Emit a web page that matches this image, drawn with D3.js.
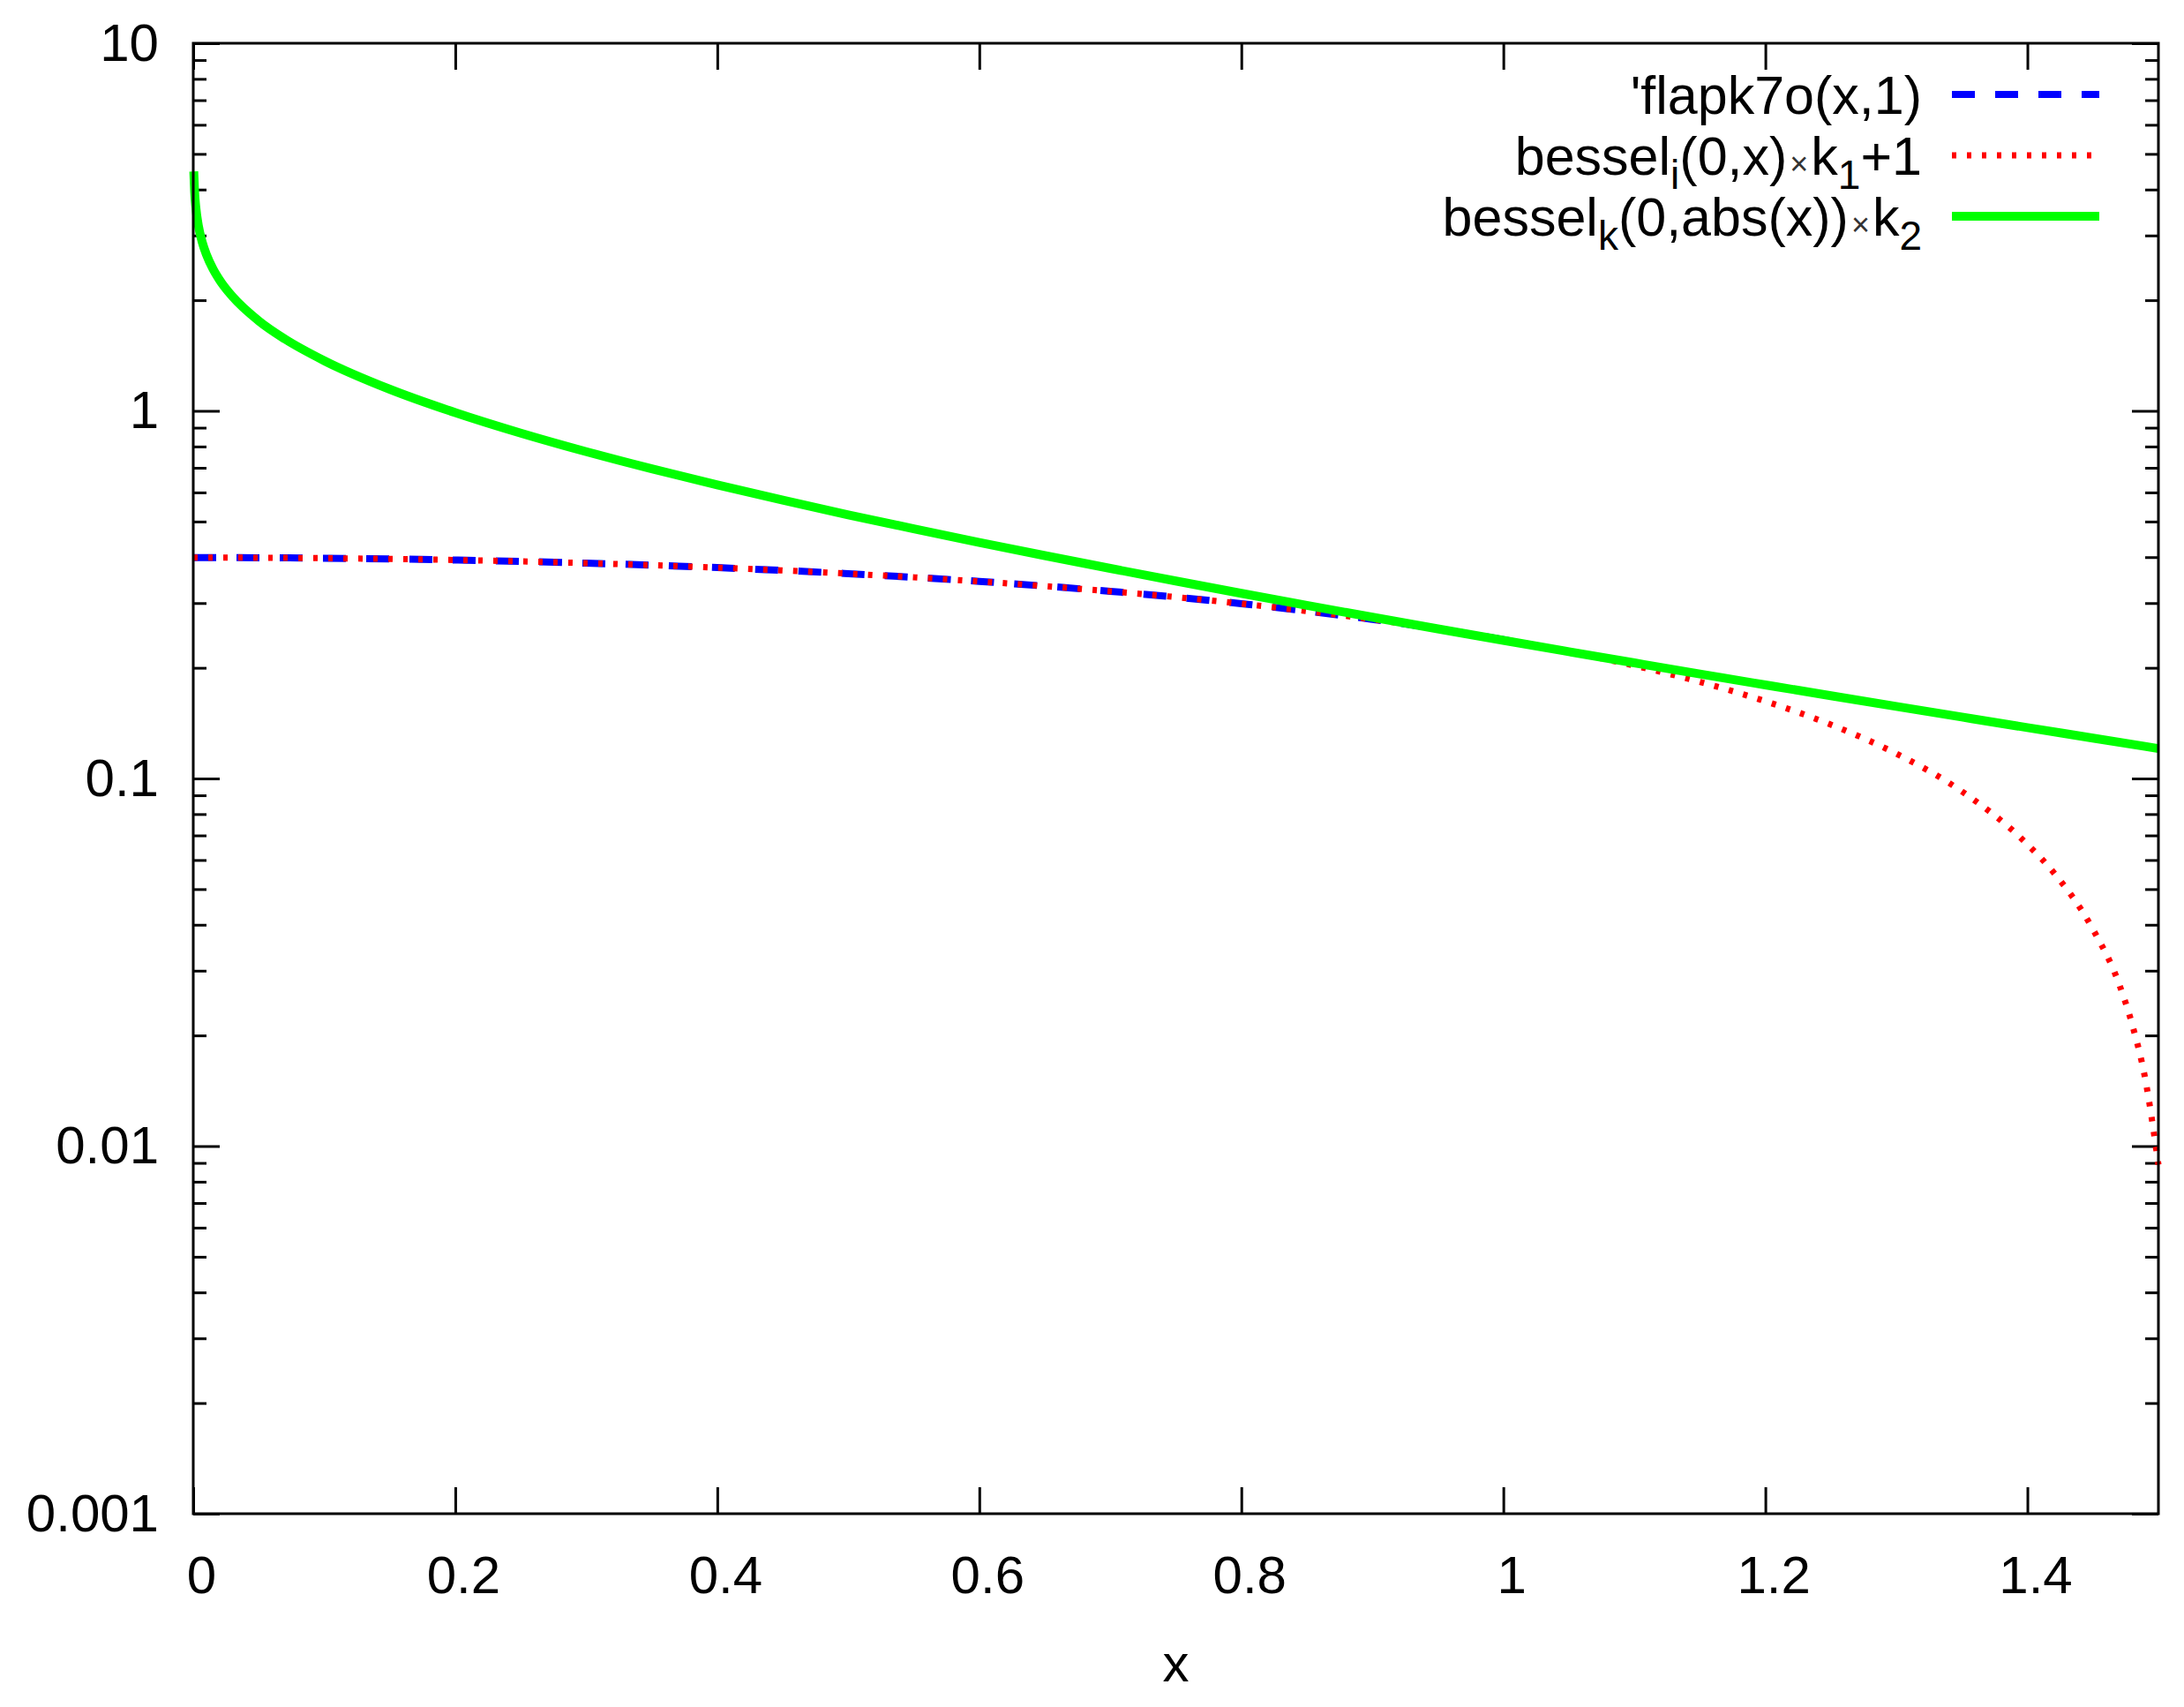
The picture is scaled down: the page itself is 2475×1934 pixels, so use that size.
<!DOCTYPE html>
<html>
<head>
<meta charset="utf-8">
<script src="https://cdn.jsdelivr.net/npm/d3@7"></script>
<style>
  body { margin: 0; background: #fff; }
  text { font-family: "Liberation Sans", Arial, sans-serif; }
</style>
</head>
<body>
<script>
// values
const xTicks = [0, 0.2, 0.4, 0.6, 0.8, 1, 1.2, 1.4];
const xTickLabels = ['0', '0.2', '0.4', '0.6', '0.8', '1', '1.2', '1.4'];
const yTicks = [10, 1, 0.1, 0.01, 0.001];
const yTickLabels = ['10', '1', '0.1', '0.01', '0.001'];

const redX = [0, 0.05, 0.1, 0.15, 0.2, 0.25, 0.3, 0.35, 0.4, 0.45, 0.5, 0.55, 0.6, 0.65, 0.7, 0.75,
  0.8, 0.85, 0.9, 0.95, 1, 1.05, 1.1, 1.15, 1.2, 1.25, 1.3, 1.35, 1.4, 1.42, 1.45, 1.47, 1.48, 1.49, 1.5];
const redY = [0.3989, 0.3985, 0.3974, 0.3955, 0.3929, 0.3895, 0.3853, 0.3804, 0.3746, 0.3681, 0.3607,
  0.3526, 0.3436, 0.3337, 0.3230, 0.3114, 0.2988, 0.2853, 0.2709, 0.2554, 0.2389, 0.2214, 0.2028,
  0.1831, 0.1622, 0.1401, 0.1168, 0.0922, 0.0662, 0.0555, 0.0389, 0.0276, 0.0214, 0.0152, 0.0089];

const greenX = [0.0004, 0.001, 0.002, 0.004, 0.007, 0.01, 0.015, 0.02, 0.03, 0.05, 0.07, 0.1, 0.15,
  0.2, 0.25, 0.3, 0.35, 0.4, 0.45, 0.5, 0.55, 0.6, 0.65, 0.7, 0.75, 0.8, 0.85, 0.9, 0.95, 1, 1.05,
  1.1, 1.15, 1.2, 1.25, 1.3, 1.35, 1.4, 1.45, 1.5];
const greenY = [4.48, 3.96, 3.57, 3.18, 2.865, 2.664, 2.435, 2.273, 2.045, 1.757, 1.568, 1.369, 1.145,
  0.9889, 0.8697, 0.7744, 0.6955, 0.6288, 0.5715, 0.5215, 0.4777, 0.4387, 0.4039, 0.3727, 0.3445,
  0.3189, 0.2958, 0.2746, 0.2552, 0.2375, 0.2213, 0.2063, 0.1924, 0.1797, 0.1679, 0.1570, 0.1469,
  0.1375, 0.1288, 0.1206];

const blueX = [0, 0.05, 0.1, 0.15, 0.2, 0.25, 0.3, 0.35, 0.4, 0.45, 0.5, 0.55, 0.6, 0.65, 0.7, 0.75,
  0.8, 0.85, 0.9, 0.95, 1, 1.05, 1.1, 1.15, 1.2, 1.25, 1.3, 1.35, 1.4, 1.45, 1.5];
const blueY = [0.3989, 0.3985, 0.3974, 0.3955, 0.3929, 0.3895, 0.3853, 0.3804, 0.3746, 0.3681, 0.3607,
  0.3526, 0.3436, 0.3337, 0.3230, 0.3114, 0.2988, 0.2853, 0.2709, 0.2554, 0.2385, 0.2213, 0.2063,
  0.1924, 0.1797, 0.1679, 0.1570, 0.1469, 0.1375, 0.1288, 0.1206];

// legend text pieces: [text, kind] kind: n normal, s subscript, m small times sign
const legendParts = [
  [["'flapk7o(x,1)", 'n']],
  [['bessel', 'n'], ['i', 's'], ['(0,x)', 'n'], ['\u00d7', 'm'], ['k', 'n'], ['1', 's'], ['+1', 'n']],
  [['bessel', 'n'], ['k', 's'], ['(0,abs(x))', 'n'], ['\u00d7', 'm'], ['k', 'n'], ['2', 's']]
];

const width = 2475, height = 1934;
const plotLeft = 219, plotRight = 2446, plotTop = 49, plotBottom = 1715;

const svg = d3.select('body').append('svg')
  .attr('width', width)
  .attr('height', height);

const x = d3.scaleLinear().domain([0, 1.5]).range([plotLeft, plotRight]);
const y = d3.scaleLog().domain([0.001, 10]).range([plotBottom, plotTop]);

const minorTicks = [];
for (let e = -3; e < 1; e++) {
  for (let m = 2; m <= 9; m++) minorTicks.push(m * Math.pow(10, e));
}

function styleAxis(g) {
  g.select('.domain').remove();
  g.selectAll('line').attr('stroke', '#000').attr('stroke-width', 3);
  g.selectAll('text')
    .attr('font-family', '"Liberation Sans", Arial, sans-serif')
    .attr('font-size', 60)
    .attr('fill', '#000');
}

// left axis
svg.append('g')
  .attr('transform', `translate(${plotLeft},0)`)
  .call(d3.axisLeft(y).tickValues(yTicks).tickSize(-30).tickPadding(39)
    .tickFormat((d, i) => yTickLabels[i]))
  .call(styleAxis);
svg.append('g')
  .attr('transform', `translate(${plotLeft},0)`)
  .call(d3.axisLeft(y).tickValues(minorTicks).tickSize(-15).tickFormat(''))
  .call(styleAxis);

// right axis (mirror ticks)
svg.append('g')
  .attr('transform', `translate(${plotRight},0)`)
  .call(d3.axisRight(y).tickValues(yTicks).tickSize(-30).tickFormat(''))
  .call(styleAxis);
svg.append('g')
  .attr('transform', `translate(${plotRight},0)`)
  .call(d3.axisRight(y).tickValues(minorTicks).tickSize(-15).tickFormat(''))
  .call(styleAxis);

// bottom axis
svg.append('g')
  .attr('transform', `translate(0,${plotBottom})`)
  .call(d3.axisBottom(x).tickValues(xTicks).tickSize(-30).tickPadding(47)
    .tickFormat((d, i) => xTickLabels[i]))
  .call(styleAxis)
  .selectAll('text').attr('dx', 9);

// top axis
svg.append('g')
  .attr('transform', `translate(0,${plotTop})`)
  .call(d3.axisTop(x).tickValues(xTicks).tickSize(-30).tickFormat(''))
  .call(styleAxis);

// curves
function series(xs, ys) {
  return xs.map((v, i) => [v, ys[i]]);
}
const line = d3.line()
  .x(d => x(d[0]))
  .y(d => y(d[1]))
  .curve(d3.curveMonotoneX);

svg.append('path')
  .datum(series(blueX, blueY))
  .attr('d', line)
  .attr('fill', 'none')
  .attr('stroke', '#0000ff')
  .attr('stroke-width', 8)
  .attr('stroke-dasharray', '26,23');

svg.append('path')
  .datum(series(redX, redY))
  .attr('d', line)
  .attr('fill', 'none')
  .attr('stroke', '#ff0000')
  .attr('stroke-width', 7)
  .attr('stroke-dasharray', '5,12');

svg.append('path')
  .datum(series(greenX, greenY))
  .attr('d', line)
  .attr('fill', 'none')
  .attr('stroke', '#00ff00')
  .attr('stroke-width', 10);

// frame
svg.append('rect')
  .attr('x', plotLeft)
  .attr('y', plotTop)
  .attr('width', plotRight - plotLeft)
  .attr('height', plotBottom - plotTop)
  .attr('fill', 'none')
  .attr('stroke', '#000')
  .attr('stroke-width', 3);

// x label
svg.append('text')
  .attr('x', (plotLeft + plotRight) / 2)
  .attr('y', 1905)
  .attr('text-anchor', 'middle')
  .attr('font-size', 60)
  .text('x');

// legend
const legendRows = [107, 176, 245];
const legendStyles = [
  {stroke: '#0000ff', width: 8, dash: '26,23'},
  {stroke: '#ff0000', width: 7, dash: '5,12'},
  {stroke: '#00ff00', width: 10, dash: null}
];

const legend = svg.append('g').attr('class', 'legend');
legendRows.forEach((ry, i) => {
  const t = legend.append('text')
    .attr('x', 2178)
    .attr('y', ry + 22)
    .attr('text-anchor', 'end')
    .attr('font-size', 61);
  let shift = 0;
  let prev = null;
  legendParts[i].forEach(([s, kind]) => {
    const target = kind === 's' ? 16 : 0;
    const ts = t.append('tspan').text(s).attr('dy', target - shift);
    shift = target;
    if (kind === 's') ts.attr('font-size', 46);
    if (kind === 'm') ts.attr('font-size', 36).attr('fill', '#333').attr('dx', 3);
    if (prev === 'm') ts.attr('dx', 3);
    prev = kind;
  });

  const st = legendStyles[i];
  legend.append('line')
    .attr('x1', 2212).attr('x2', 2379)
    .attr('y1', ry).attr('y2', ry)
    .attr('stroke', st.stroke)
    .attr('stroke-width', st.width)
    .attr('stroke-dasharray', st.dash);
});
</script>
</body>
</html>
